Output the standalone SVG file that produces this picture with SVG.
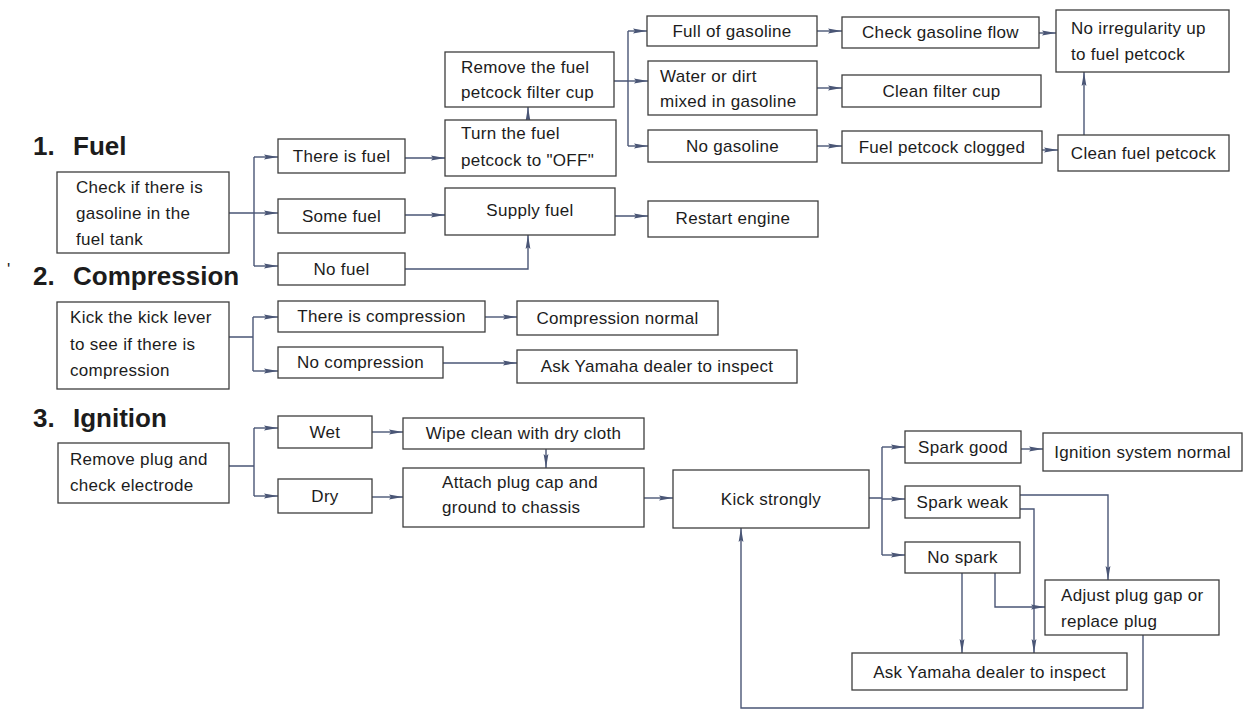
<svg xmlns="http://www.w3.org/2000/svg" width="1254" height="711" viewBox="0 0 1254 711">
  <style>
    .box { fill: #ffffff; stroke: #3e3e3e; stroke-width: 1.3; }
    .lbl { font-family: "Liberation Sans", Arial, sans-serif; font-size: 17px; letter-spacing: 0.3px; fill: #1c1c1c; }
    .mid { text-anchor: middle; }
    .title { font-family: "Liberation Sans", Arial, sans-serif; font-size: 26px; font-weight: bold; fill: #1c1c1c; }
    .wire { fill: none; stroke: #4a5676; stroke-width: 1.4; }
  </style>
  <defs>
    <marker id="arr" markerWidth="15" markerHeight="6" refX="14" refY="3" orient="auto" markerUnits="userSpaceOnUse">
      <path d="M0,0.6 L14,3 L0,5.4 L2,3 Z" fill="#4a5676"/>
    </marker>
  </defs>
  <rect width="1254" height="711" fill="#ffffff"/>

  <!-- section headings -->
  <g id="headings">
    <text class="title" x="33" y="155">1.<tspan x="73">Fuel</tspan></text>
    <text class="lbl" x="7" y="275" font-size="14">'</text>
    <text class="title" x="33" y="285">2.<tspan x="73">Compression</tspan></text>
    <text class="title" x="33" y="427">3.<tspan x="73">Ignition</tspan></text>
  </g>

  <!-- connectors -->
  <g id="connectors" class="wire">
    <!-- fuel -->
    <path d="M229,213 H254 M254,157 V266"/>
    <path d="M254,157 H278" marker-end="url(#arr)"/>
    <path d="M254,213 H278" marker-end="url(#arr)"/>
    <path d="M254,266 H278" marker-end="url(#arr)"/>
    <path d="M405,158 H445" marker-end="url(#arr)"/>
    <path d="M528,120 V107" marker-end="url(#arr)"/>
    <path d="M614,81 H628 M628,31 V146"/>
    <path d="M628,31 H647" marker-end="url(#arr)"/>
    <path d="M628,81 H648" marker-end="url(#arr)"/>
    <path d="M628,146 H648" marker-end="url(#arr)"/>
    <path d="M817,31 H842" marker-end="url(#arr)"/>
    <path d="M817,88 H842" marker-end="url(#arr)"/>
    <path d="M817,146 H842" marker-end="url(#arr)"/>
    <path d="M1039,33 H1056" marker-end="url(#arr)"/>
    <path d="M1042,150 H1058" marker-end="url(#arr)"/>
    <path d="M1084,135 V72" marker-end="url(#arr)"/>
    <path d="M405,215 H445" marker-end="url(#arr)"/>
    <path d="M405,269 H528 V235" marker-end="url(#arr)"/>
    <path d="M615,216 H648" marker-end="url(#arr)"/>
    <!-- compression -->
    <path d="M229,337 H253 M253,317 V371"/>
    <path d="M253,317 H278" marker-end="url(#arr)"/>
    <path d="M253,371 H278" marker-end="url(#arr)"/>
    <path d="M485,317 H517" marker-end="url(#arr)"/>
    <path d="M443,363 H517" marker-end="url(#arr)"/>
    <!-- ignition -->
    <path d="M229,466 H254 M254,428 V496"/>
    <path d="M254,428 H278" marker-end="url(#arr)"/>
    <path d="M254,496 H278" marker-end="url(#arr)"/>
    <path d="M372,432 H403" marker-end="url(#arr)"/>
    <path d="M372,497 H403" marker-end="url(#arr)"/>
    <path d="M546,449 V468" marker-end="url(#arr)"/>
    <path d="M644,498 H673" marker-end="url(#arr)"/>
    <path d="M869,498 H882 M882,447 V555"/>
    <path d="M882,447 H905" marker-end="url(#arr)"/>
    <path d="M882,499 H905" marker-end="url(#arr)"/>
    <path d="M882,555 H905" marker-end="url(#arr)"/>
    <path d="M1021,449 H1043" marker-end="url(#arr)"/>
    <path d="M1020,495 H1108 V580" marker-end="url(#arr)"/>
    <path d="M1020,509 H1034 V653" marker-end="url(#arr)"/>
    <path d="M962,573 V653" marker-end="url(#arr)"/>
    <path d="M995,573 V607 H1045" marker-end="url(#arr)"/>
    <path d="M1143,635 V708 H741 V528" marker-end="url(#arr)"/>
  </g>

  <!-- 1. Fuel -->
  <g id="n_check_tank"><rect class="box" x="57" y="172" width="172" height="81"/>
    <text class="lbl" x="76" y="193">Check if there is<tspan x="76" y="219">gasoline in the</tspan><tspan x="76" y="245">fuel tank</tspan></text></g>
  <g id="n_there_is_fuel"><rect class="box" x="278" y="139" width="127" height="34"/>
    <text class="lbl mid" x="341.5" y="162">There is fuel</text></g>
  <g id="n_some_fuel"><rect class="box" x="278" y="199" width="127" height="34"/>
    <text class="lbl mid" x="341.5" y="222">Some fuel</text></g>
  <g id="n_no_fuel"><rect class="box" x="278" y="253" width="127" height="32"/>
    <text class="lbl mid" x="341.5" y="275">No fuel</text></g>
  <g id="n_turn_off"><rect class="box" x="445" y="120" width="171" height="56"/>
    <text class="lbl" x="461" y="139">Turn the fuel<tspan x="461" y="166">petcock to "OFF"</tspan></text></g>
  <g id="n_remove_cup"><rect class="box" x="445" y="52" width="169" height="55"/>
    <text class="lbl" x="461" y="73">Remove the fuel<tspan x="461" y="98">petcock filter cup</tspan></text></g>
  <g id="n_full"><rect class="box" x="647" y="16" width="170" height="30"/>
    <text class="lbl mid" x="732" y="37">Full of gasoline</text></g>
  <g id="n_water"><rect class="box" x="648" y="61" width="169" height="54"/>
    <text class="lbl" x="660" y="82">Water or dirt<tspan x="660" y="107">mixed in gasoline</tspan></text></g>
  <g id="n_no_gasoline"><rect class="box" x="648" y="130" width="169" height="32"/>
    <text class="lbl mid" x="732.5" y="152">No gasoline</text></g>
  <g id="n_check_flow"><rect class="box" x="842" y="17" width="197" height="31"/>
    <text class="lbl mid" x="940.5" y="38">Check gasoline flow</text></g>
  <g id="n_clean_cup"><rect class="box" x="842" y="75" width="199" height="32"/>
    <text class="lbl mid" x="941.5" y="97">Clean filter cup</text></g>
  <g id="n_clogged"><rect class="box" x="842" y="131" width="200" height="32"/>
    <text class="lbl mid" x="942" y="153">Fuel petcock clogged</text></g>
  <g id="n_clean_petcock"><rect class="box" x="1058" y="135" width="171" height="36"/>
    <text class="lbl mid" x="1143.5" y="159">Clean fuel petcock</text></g>
  <g id="n_no_irregularity"><rect class="box" x="1056" y="10" width="173" height="62"/>
    <text class="lbl" x="1071" y="34">No irregularity up<tspan x="1071" y="60">to fuel petcock</tspan></text></g>
  <g id="n_supply"><rect class="box" x="445" y="188" width="170" height="47"/>
    <text class="lbl mid" x="530" y="216">Supply fuel</text></g>
  <g id="n_restart"><rect class="box" x="648" y="201" width="170" height="36"/>
    <text class="lbl mid" x="733" y="224">Restart engine</text></g>

  <!-- 2. Compression -->
  <g id="n_kick_lever"><rect class="box" x="57" y="302" width="172" height="87"/>
    <text class="lbl" x="70" y="323">Kick the kick lever<tspan x="70" y="350">to see if there is</tspan><tspan x="70" y="376">compression</tspan></text></g>
  <g id="n_there_comp"><rect class="box" x="278" y="301" width="207" height="31"/>
    <text class="lbl mid" x="381.5" y="322">There is compression</text></g>
  <g id="n_no_comp"><rect class="box" x="278" y="347" width="165" height="31"/>
    <text class="lbl mid" x="360.5" y="368">No compression</text></g>
  <g id="n_comp_normal"><rect class="box" x="517" y="301" width="201" height="34"/>
    <text class="lbl mid" x="617.5" y="324">Compression normal</text></g>
  <g id="n_ask_dealer_comp"><rect class="box" x="517" y="350" width="280" height="33"/>
    <text class="lbl mid" x="657" y="372">Ask Yamaha dealer to inspect</text></g>

  <!-- 3. Ignition -->
  <g id="n_remove_plug"><rect class="box" x="58" y="443" width="171" height="60"/>
    <text class="lbl" x="70" y="465">Remove plug and<tspan x="70" y="491">check electrode</tspan></text></g>
  <g id="n_wet"><rect class="box" x="278" y="416" width="94" height="32"/>
    <text class="lbl mid" x="325" y="438">Wet</text></g>
  <g id="n_dry"><rect class="box" x="278" y="479" width="94" height="34"/>
    <text class="lbl mid" x="325" y="502">Dry</text></g>
  <g id="n_wipe"><rect class="box" x="403" y="418" width="241" height="31"/>
    <text class="lbl mid" x="523.5" y="439">Wipe clean with dry cloth</text></g>
  <g id="n_attach"><rect class="box" x="403" y="468" width="241" height="59"/>
    <text class="lbl" x="442" y="488">Attach plug cap and<tspan x="442" y="513">ground to chassis</tspan></text></g>
  <g id="n_kick_strongly"><rect class="box" x="673" y="470" width="196" height="58"/>
    <text class="lbl mid" x="771" y="505">Kick strongly</text></g>
  <g id="n_spark_good"><rect class="box" x="905" y="431" width="116" height="32"/>
    <text class="lbl mid" x="963" y="453">Spark good</text></g>
  <g id="n_spark_weak"><rect class="box" x="905" y="486" width="115" height="32"/>
    <text class="lbl mid" x="962.5" y="508">Spark weak</text></g>
  <g id="n_no_spark"><rect class="box" x="905" y="542" width="115" height="31"/>
    <text class="lbl mid" x="962.5" y="563">No spark</text></g>
  <g id="n_ign_normal"><rect class="box" x="1043" y="433" width="199" height="38"/>
    <text class="lbl mid" x="1142.5" y="458">Ignition system normal</text></g>
  <g id="n_adjust_plug"><rect class="box" x="1045" y="580" width="174" height="55"/>
    <text class="lbl" x="1061" y="601">Adjust plug gap or<tspan x="1061" y="627">replace plug</tspan></text></g>
  <g id="n_ask_dealer_ign"><rect class="box" x="852" y="653" width="275" height="37"/>
    <text class="lbl mid" x="989.5" y="678">Ask Yamaha dealer to inspect</text></g>
</svg>
